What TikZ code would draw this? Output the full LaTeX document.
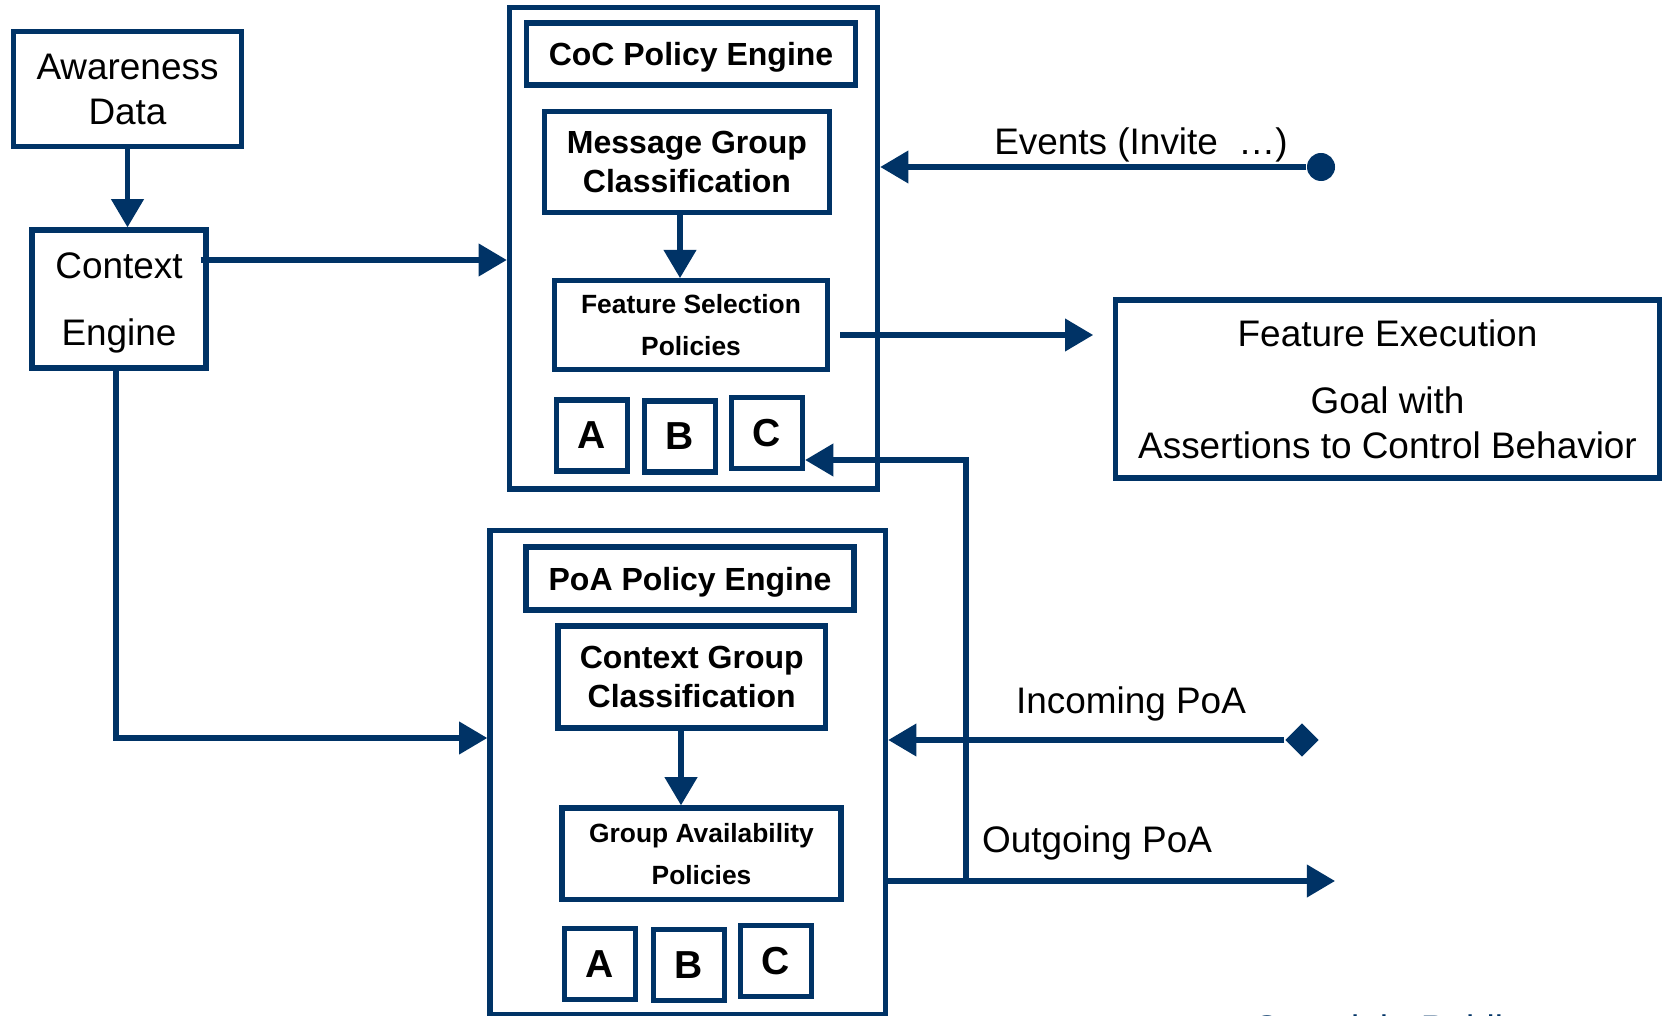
\documentclass[tikz,border=0pt]{standalone}
\usepackage{fontspec}
\setmainfont{Liberation Sans}
\usepackage{tikz}
\usetikzlibrary{arrows.meta,shapes.geometric}

\definecolor{navy}{RGB}{0,51,102}

\tikzset{
  blk/.style  = {draw=navy, line width=1.5pt, inner sep=0pt, align=center},
  txt/.style  = {inner sep=0pt, font=\fontsize{10.5}{12.8}\selectfont},
  hdr/.style  = {font=\bfseries\fontsize{9.1}{10.9}\selectfont},
  pol/.style  = {font=\bfseries\fontsize{7.5}{12}\selectfont},
  abc/.style  = {blk, minimum size=0.71cm, font=\bfseries\fontsize{11.1}{13}\selectfont},
  flow/.style = {draw=navy, line width=1.5pt, -{Triangle[length=8pt,width=9pt]}},
}

\begin{document}
\begin{tikzpicture}[x=0.01cm, y=-0.01cm]

       \useasboundingbox (0,0) rectangle (1664,1016);
       \clip             (0,0) rectangle (1664,1016);

        \node [blk, txt, minimum width=2.28cm, minimum height=1.15cm]                    (aware) at (127.5,89)  {Awareness\\Data};
        \node [blk, txt, font=\fontsize{10.5}{19}\selectfont, text depth=0pt,
               minimum width=1.74cm, minimum height=1.38cm]                               (ctx)   at (119,299)   {Context\\Engine};

        % CoC side
        \node [blk, minimum width=3.68cm,  minimum height=4.81cm]                         (coc)   at (693.5,248.5) {};
        \node [blk, hdr, text depth=0pt, minimum width=3.295cm, minimum height=0.62cm]    (cochd) at (691,54)    {CoC Policy Engine};
        \node [blk, hdr, minimum width=2.845cm, minimum height=1.015cm]                   (msg)   at (687,162)   {Message Group\\Classification};
        \node [blk, pol, minimum width=2.73cm,  minimum height=0.885cm]                   (fsel)  at (691,325)   {Feature Selection\\Policies};
        \node [abc] (cocA) at (592,435.5) {A};
        \node [abc] (cocB) at (680,436.5) {B};
        \node [abc] (cocC) at (767,433)   {C};

        \node [blk, txt, minimum width=5.43cm, minimum height=1.78cm]                     (fexec) at (1387.5,389)
              {Feature Execution\\[6.2pt]Goal with\\Assertions to Control Behavior};

        % PoA side
        \node [blk, minimum width=3.955cm, minimum height=4.83cm]                         (poa)    at (687.75,772.5) {};
        \node [blk, hdr, text depth=0pt, minimum width=3.28cm, minimum height=0.63cm]     (poahd)  at (690,578.5) {PoA Policy Engine};
        \node [blk, hdr, minimum width=2.675cm, minimum height=1.02cm]                    (cgrp)   at (691.75,677) {Context Group\\Classification};
        \node [blk, pol, minimum width=2.79cm,  minimum height=0.915cm]                   (gavail) at (701.5,853.75) {Group Availability\\Policies};
        \node [abc] (poaA) at (600,964) {A};
        \node [abc] (poaB) at (689,965) {B};
        \node [abc] (poaC) at (776,961) {C};

        % sources and ends
        \node [circle,  fill=navy, inner sep=0pt, minimum size=0.28cm]                    (evsrc)  at (1321,167) {};
        \node [diamond, fill=navy, inner sep=0pt, minimum width=0.34cm, minimum height=0.34cm] (insrc) at (1302,740) {};
        \coordinate (ctxout) at ([shift={(-8,-39)}]ctx.east);
        \coordinate (fsout)  at ([shift={(10,10)}]fsel.east);
        \coordinate (outend) at (1335,881);
        \coordinate (fb)     at (966,881);

        \draw [flow]                   (aware) -- (aware |- ctx.north);
        \draw [flow]                   (ctxout) -- (ctxout -| coc.west);
        \draw [flow]                   ([xshift=-0.03cm]ctx.south) |- (poa.west |- 0,738);
        \draw [flow]                   (msg.south -| 680,0) -- (fsel.north -| 680,0);
        \draw [flow]                   (cgrp.south -| 681,0) -- (gavail.north -| 681,0);
        \draw [flow, shorten >=5.7pt]  (fsout) -- (fsout -| fexec.west);
        \draw [flow]                   (evsrc) -- (evsrc -| coc.east);
        \draw [flow]                   (insrc) -- (insrc -| poa.east);
        \draw [flow]                   (poa.east |- outend) -- (outend);
        \draw [flow]                   (fb) |- (cocC.east |- 0,460);

        \node [txt, anchor=base]                   (evlbl)  at (1141,155) {Events (Invite\ \ …)};
        \node [txt, anchor=base]                   (inlbl)  at (1131,713) {Incoming PoA};
        \node [txt, anchor=base]                   (outlbl) at (1097,852) {Outgoing PoA};
        \node [txt, text=navy, anchor=base west]   (cpy)    at (1252,1041) {Copyright Publi};

     \end{tikzpicture}
\end{document}
